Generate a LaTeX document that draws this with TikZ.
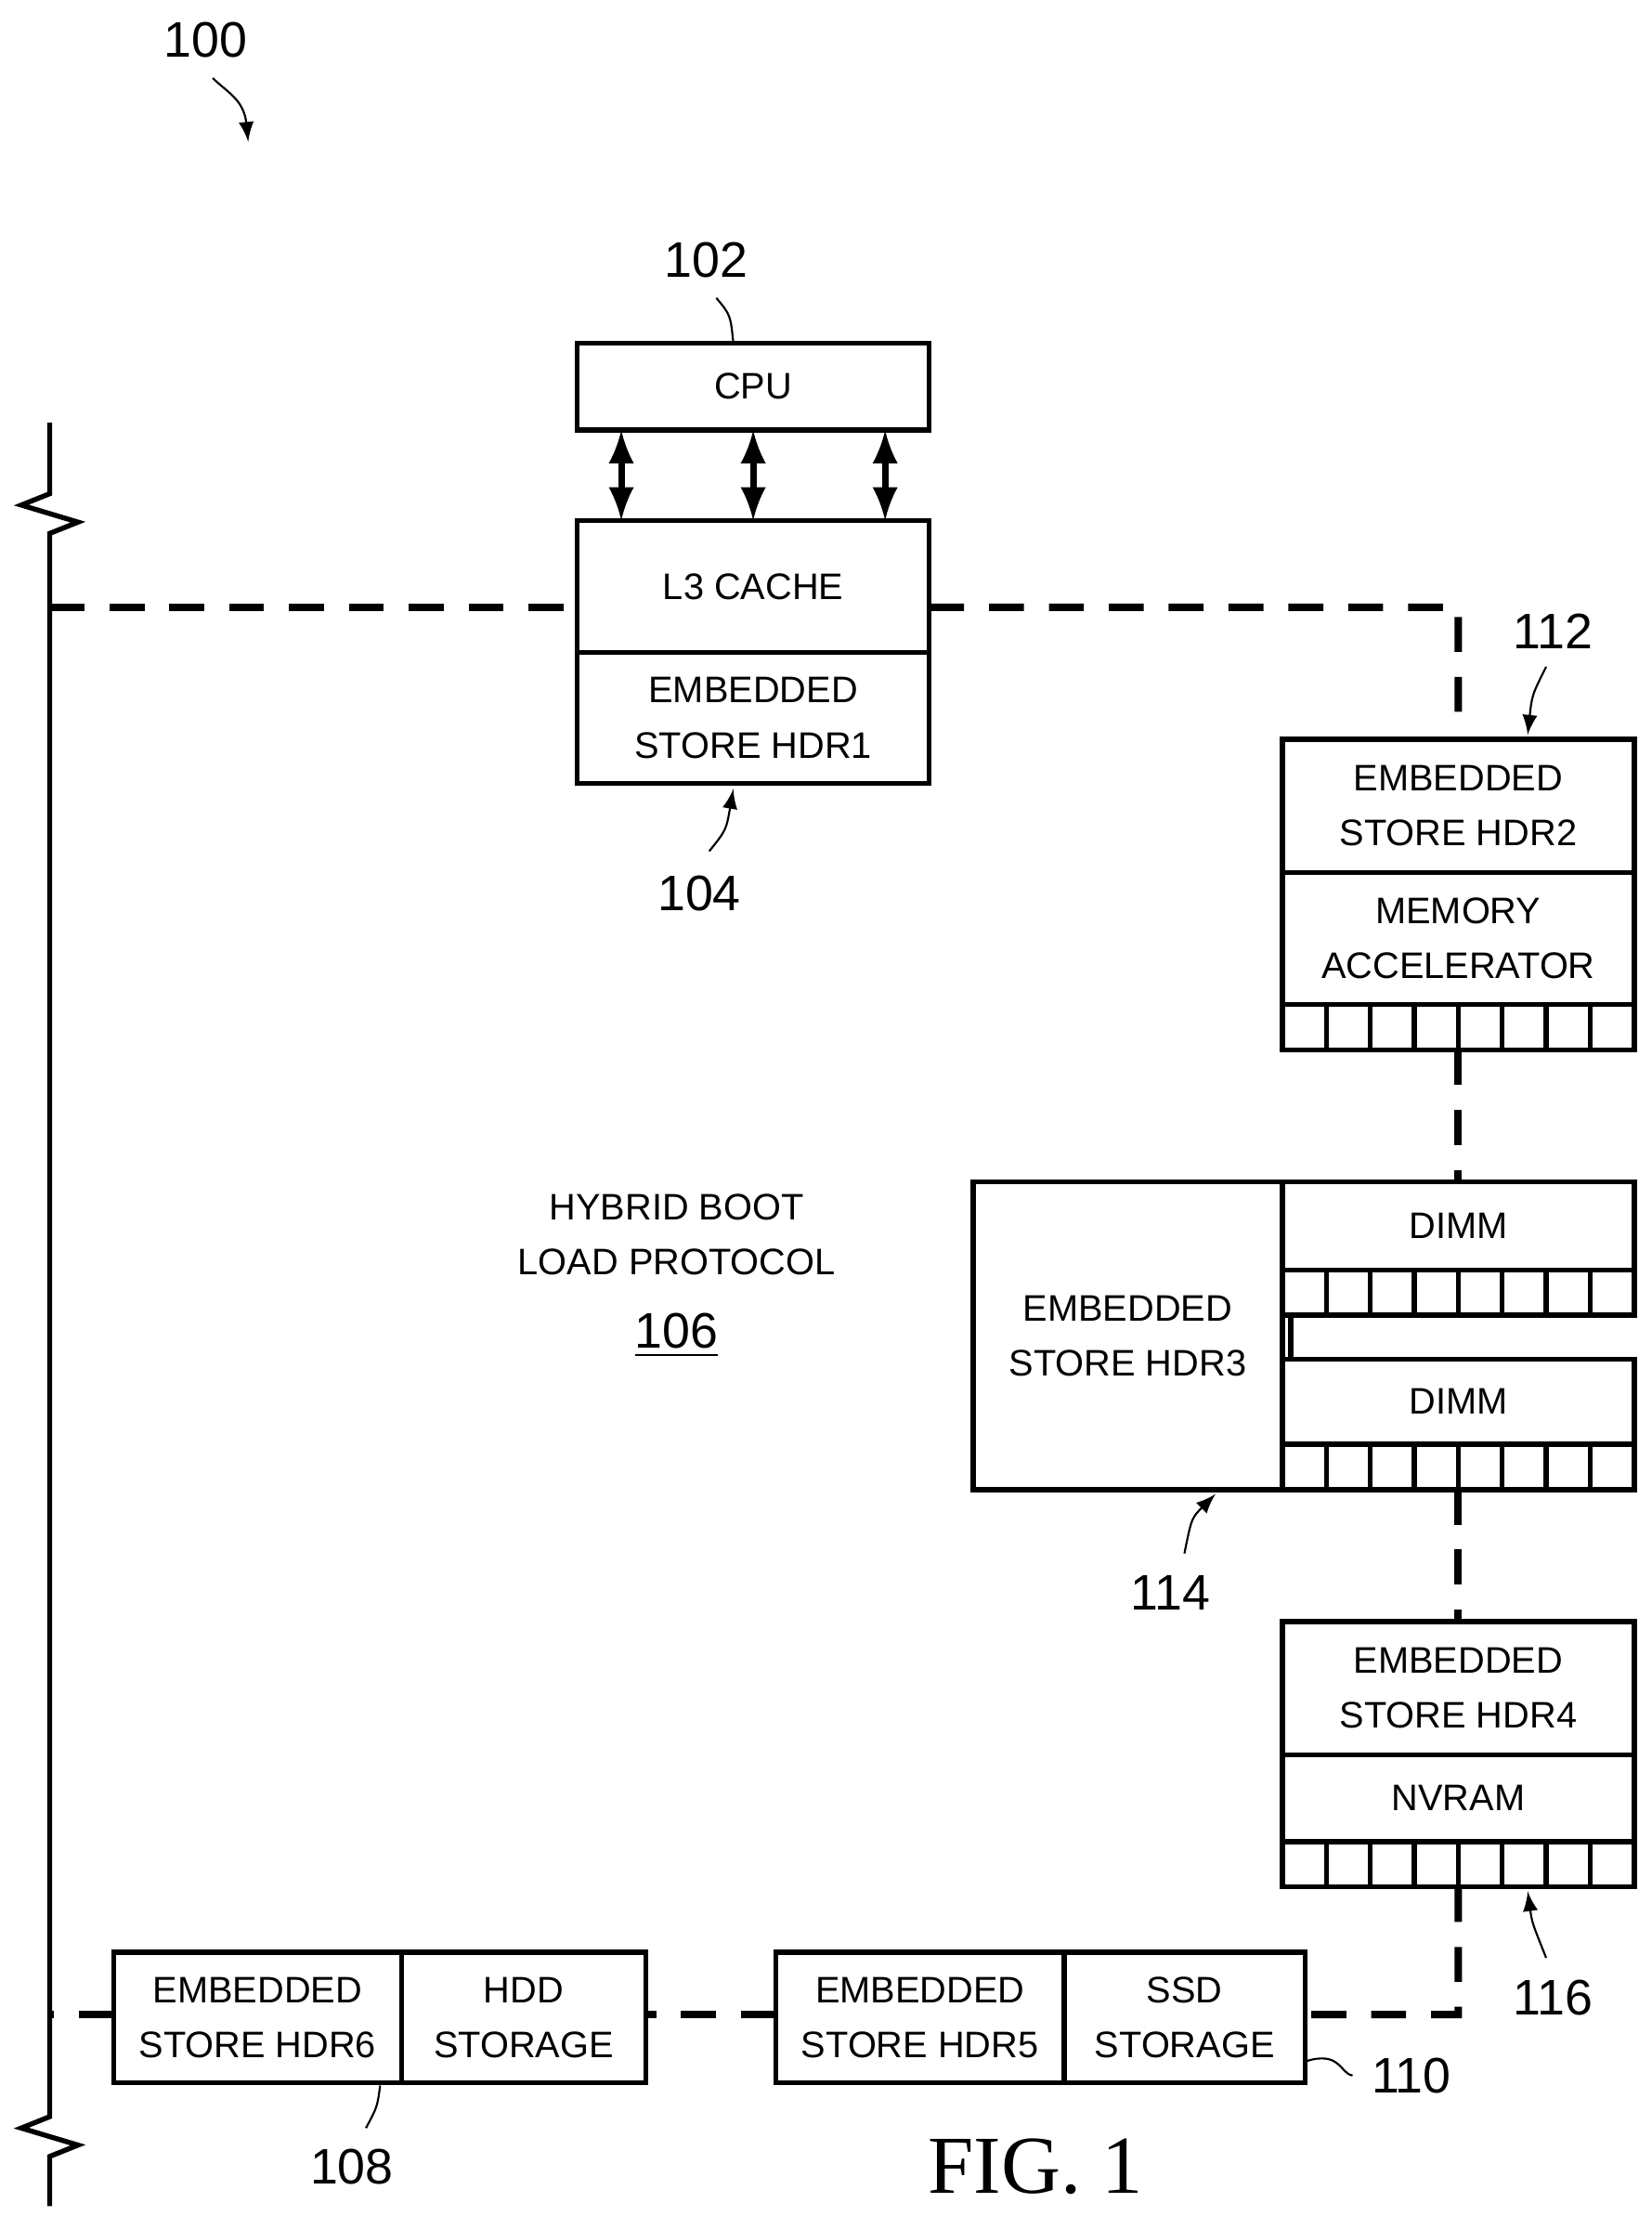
\documentclass[tikz,border=0pt]{standalone}
\usepackage{fontspec}
\setmainfont{Liberation Sans}
\newfontfamily\figfont{Liberation Serif}
\usetikzlibrary{positioning}
\begin{document}
\begin{tikzpicture}[x=0.01cm,y=-0.01cm,line width=1pt,
    box/.style={draw,rectangle,inner sep=0pt,outer sep=0pt,font=\fontsize{7.4}{11}\selectfont,align=center},
    link/.style={dashed,dash pattern=on 7pt off 5pt,line width=1.5pt},
    refnum/.style={font=\fontsize{10}{12}\selectfont},
    >=latex]
  \useasboundingbox (0,0) rectangle (1164,1562);
  % label 100
  \node[refnum] (n100) at (145,28) {100};
  \draw[->,thin] (150,55) .. controls (160,65) and (172,70) .. (175,100);
  % CPU and L3
  \node[box,minimum width=2.48cm,minimum height=0.61cm] (cpu) at (531,272.5) {CPU};
  \node[box,minimum width=2.48cm,minimum height=0.93cm] (l3) at (531,413.5) {L3 CACHE};
  \node[box,minimum width=2.48cm,minimum height=0.92cm,anchor=north] (hdr1) at (l3.south) {EMBEDDED\\STORE HDR1};
  \foreach \x in {438,531,624}
    \draw[<->,line width=1.3pt] (\x,303) -- (\x,367);
  \node[refnum] (n102) at (498,183) {102};
  \draw[thin] (505,210) .. controls (515,222) .. (517,242);
  \node[refnum] (n104) at (493,630) {104};
  \draw[->,thin] (500,600) .. controls (512,585) .. (517,556);
  % left break line
  \draw (35,298) -- (35,348) -- (15,356) -- (55,368) -- (35,376) -- (35,1492) -- (15,1500) -- (55,1512) -- (35,1520) -- (35,1555);
  % box 112
  \node[box,minimum width=2.48cm,minimum height=0.94cm,anchor=north west] (hdr2) at (904,521) {EMBEDDED\\STORE HDR2};
  \node[box,minimum width=2.48cm,minimum height=0.93cm,anchor=north] (accel) at (hdr2.south) {MEMORY\\ACCELERATOR};
  \node[box,minimum width=2.48cm,minimum height=0.32cm,anchor=north] (pins2) at (accel.south) {};
  \foreach \i in {1,...,7} \draw (904+31*\i,708) -- (904+31*\i,740);
  \node[refnum] (n112) at (1095,445) {112};
  \draw[->,thin] (1090,470) .. controls (1080,490) .. (1077,518);
  % box 114
  \node[box,minimum width=2.18cm,minimum height=2.17cm,anchor=north west] (hdr3) at (686,833) {EMBEDDED\\STORE HDR3};
  \node[box,minimum width=2.48cm,minimum height=0.62cm,anchor=north west] (dimma) at (904,833) {DIMM};
  \node[box,minimum width=2.48cm,minimum height=0.32cm,anchor=north] (pinsa) at (dimma.south) {};
  \node[box,minimum width=2.48cm,minimum height=0.60cm,anchor=north west] (dimmb) at (904,958) {DIMM};
  \node[box,minimum width=2.48cm,minimum height=0.32cm,anchor=north] (pinsb) at (dimmb.south) {};
  \foreach \i in {1,...,7} {
    \draw (904+31*\i,895) -- (904+31*\i,927);
    \draw (904+31*\i,1018) -- (904+31*\i,1050);
  }
  \draw (910,927) -- (910,958);
  \node[refnum] (n114) at (825,1123) {114};
  \draw[->,thin] (835,1095) .. controls (840,1070) .. (857,1053);
  % box 116
  \node[box,minimum width=2.48cm,minimum height=0.94cm,anchor=north west] (hdr4) at (904,1143) {EMBEDDED\\STORE HDR4};
  \node[box,minimum width=2.48cm,minimum height=0.61cm,anchor=north] (nvram) at (hdr4.south) {NVRAM};
  \node[box,minimum width=2.48cm,minimum height=0.32cm,anchor=north] (pins4) at (nvram.south) {};
  \foreach \i in {1,...,7} \draw (904+31*\i,1298) -- (904+31*\i,1330);
  \node[refnum] (n116) at (1095,1408) {116};
  \draw[->,thin] (1090,1380) .. controls (1080,1355) .. (1077,1333);
  % storage boxes
  \node[box,minimum width=2.03cm,minimum height=0.92cm,anchor=north west] (hdr5) at (547,1376) {EMBEDDED\\STORE HDR5};
  \node[box,minimum width=1.70cm,minimum height=0.92cm,anchor=west] (ssd) at (hdr5.east) {SSD\\STORAGE};
  \node[box,minimum width=2.03cm,minimum height=0.92cm,anchor=north west] (hdr6) at (80,1376) {EMBEDDED\\STORE HDR6};
  \node[box,minimum width=1.72cm,minimum height=0.92cm,anchor=west] (hdd) at (hdr6.east) {HDD\\STORAGE};
  \node[refnum] (n110) at (995,1463) {110};
  \draw[thin] (ssd.south east) ++(0,-15) .. controls (945,1445) and (945,1462) .. (n110.west);
  \node[refnum] (n108) at (248,1527) {108};
  \draw[thin] (268,1470) .. controls (266,1485) .. (258,1500);
  % bus
  \coordinate (busl) at (35,428);
  \coordinate (busr) at (1028,428);
  \coordinate (busb) at (1028,1420);
  \coordinate (busbl) at (35,1420);
  \draw[link] (busl) -- (l3.west |- busl);
  \draw[link] (l3.east |- busr) -- (busr) -- (hdr2.north);
  \draw[link] (pins2.south) -- (dimma.north);
  \draw[link] (pinsb.south) -- (hdr4.north);
  \draw[link] (pins4.south) -- (busb) -- (ssd.east |- busb);
  \draw[link] (hdr5.west |- busb) -- (hdd.east |- busb);
  \draw[link] (hdr6.west |- busb) -- (busbl);
  % protocol text
  \node[align=center,font=\fontsize{7.4}{11}\selectfont] (proto) at (477,870) {HYBRID BOOT\\LOAD PROTOCOL};
  \node[refnum,below=0pt of proto] (n106) {\underline{106}};
  \node[font=\figfont\fontsize{16.5}{20}\selectfont] (fig) at (730,1527) {FIG. 1};
\end{tikzpicture}
\end{document}
